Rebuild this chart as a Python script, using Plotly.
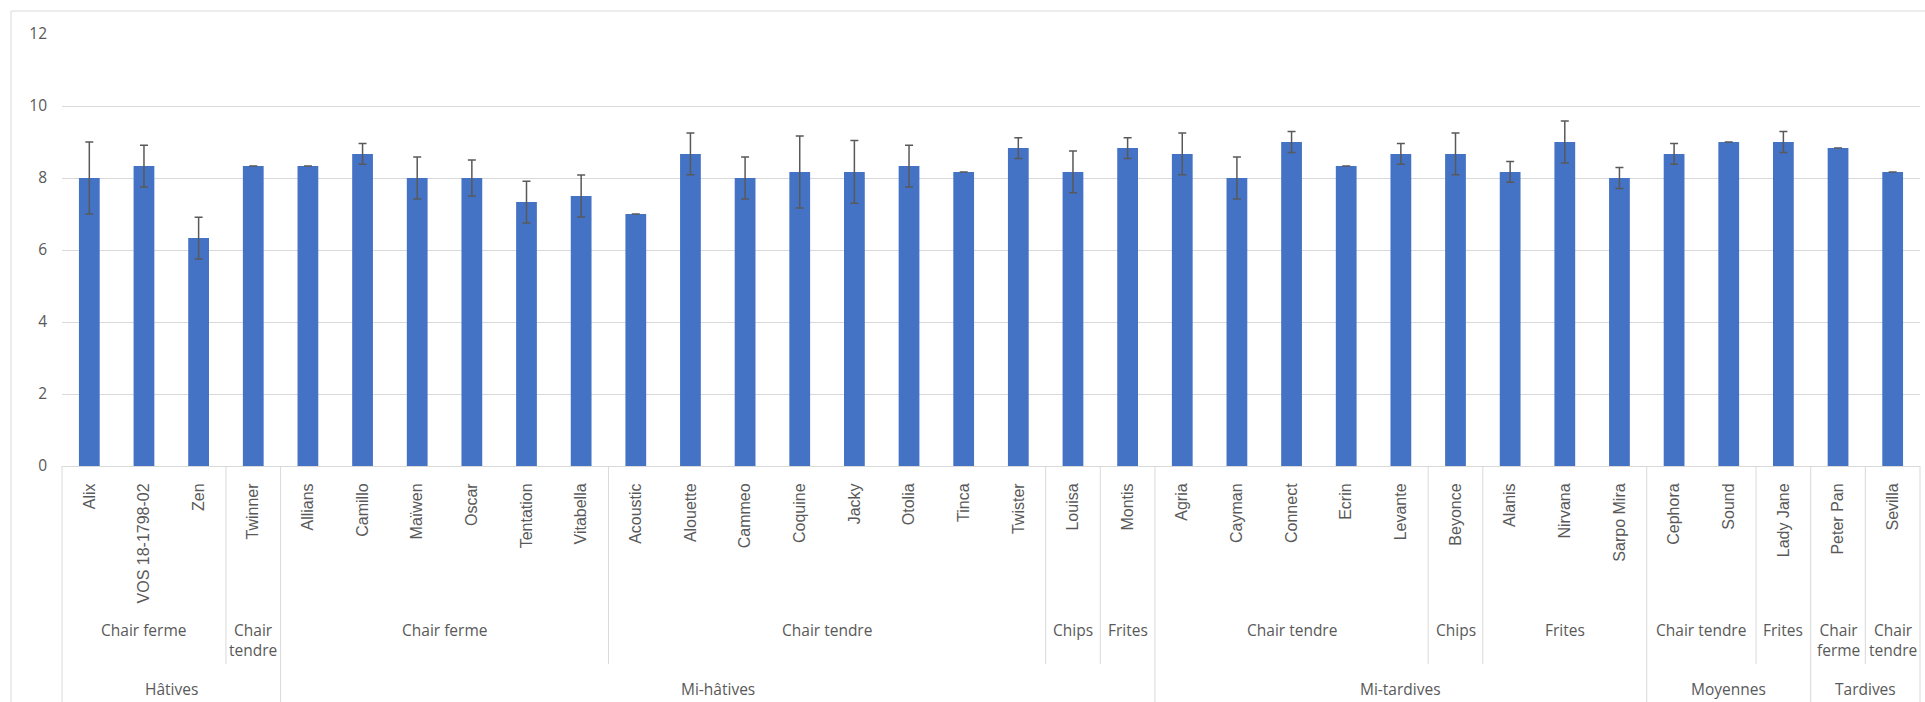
import plotly.graph_objects as go

# ---------------- data ----------------
varieties = ["Alix", "VOS 18-1798-02", "Zen", "Twinner", "Allians", "Camillo", "Maïwen",
             "Oscar", "Tentation", "Vitabella", "Acoustic", "Alouette", "Cammeo", "Coquine",
             "Jacky", "Otolia", "Tinca", "Twister", "Louisa", "Montis", "Agria", "Cayman",
             "Connect", "Ecrin", "Levante", "Beyonce", "Alanis", "Nirvana", "Sarpo Mira",
             "Cephora", "Sound", "Lady Jane", "Peter Pan", "Sevilla"]

maturity = (["Hâtives"] * 4 + ["Mi-hâtives"] * 16 + ["Mi-tardives"] * 9
            + ["Moyennes"] * 3 + ["Tardives"] * 2)

flesh = (["Chair ferme"] * 3 + ["Chair tendre"]
         + ["Chair ferme"] * 6 + ["Chair tendre"] * 8 + ["Chips", "Frites"]
         + ["Chair tendre"] * 5 + ["Chips"] + ["Frites"] * 3
         + ["Chair tendre"] * 2 + ["Frites"]
         + ["Chair ferme", "Chair tendre"])

means = [8.0, 8.33, 6.33, 8.33, 8.33, 8.67, 8.0, 8.0, 7.33, 7.5, 7.0, 8.67, 8.0, 8.17,
         8.17, 8.33, 8.17, 8.83, 8.17, 8.83, 8.67, 8.0, 9.0, 8.33, 8.67, 8.67, 8.17, 9.0,
         8.0, 8.67, 9.0, 9.0, 8.83, 8.17]

errors = [1.0, 0.58, 0.58, 0, 0, 0.29, 0.58, 0.5, 0.58, 0.58, 0, 0.58, 0.58, 1.0,
          0.87, 0.58, 0, 0.29, 0.58, 0.29, 0.58, 0.58, 0.29, 0, 0.29, 0.58, 0.29, 0.58,
          0.29, 0.29, 0, 0.29, 0, 0]

y_ticks = [0, 2, 4, 6, 8, 10, 12]

# ---------------- styling / layout constants ----------------
W, H = 1925, 702
ML, MR, MT, MB = 62, 5, 34, 236
PLOT_H = H - MT - MB
AXIS_Y = MT + PLOT_H          # pixel row of the category axis
GREY_TXT = "#595959"
GRID = "#d9d9d9"
BAR = "#4472C4"
GROUP_FONT = dict(family="Open Sans, Liberation Sans, sans-serif", size=15.5, color=GREY_TXT)


def py(pixel_y):
    """convert a pixel row (from page top) to paper y"""
    return (AXIS_Y - pixel_y) / PLOT_H


def runs(keys):
    out = []
    start = 0
    for i in range(1, len(keys) + 1):
        if i == len(keys) or keys[i] != keys[start]:
            out.append((start, i, keys[start]))
            start = i
    return out


n = len(varieties)

fig = go.Figure(go.Bar(
    x=varieties, y=means,
    marker=dict(color=BAR, line=dict(width=0)),
    width=0.38,
    error_y=dict(type="data", array=errors, visible=True,
                 color=GREY_TXT, thickness=1.5, width=4),
))

shapes = []
annotations = []

# chart border (Excel chart area outline)
shapes.append(dict(type="rect", xref="paper", yref="paper",
                   x0=(11 - ML) / (W - ML - MR), x1=(W + 2 - ML) / (W - ML - MR),
                   y0=py(H + 20), y1=py(11),
                   line=dict(color=GRID, width=1), fillcolor="rgba(0,0,0,0)",
                   layer="below"))

lvl1 = runs(maturity)
pairs = [m + "|" + f for m, f in zip(maturity, flesh)]
lvl2 = runs(pairs)

major_bounds = set()
for s, e, _ in lvl1:
    major_bounds.add(s)
    major_bounds.add(e)
minor_bounds = set()
for s, e, _ in lvl2:
    minor_bounds.add(s)
    minor_bounds.add(e)

for b in sorted(major_bounds | minor_bounds):
    bottom = H + 20 if b in major_bounds else 664
    shapes.append(dict(type="line", xref="paper", yref="paper",
                       x0=b / n, x1=b / n, y0=py(AXIS_Y), y1=py(bottom),
                       line=dict(color=GRID, width=1)))

for s, e, key in lvl2:
    label = key.split("|")[1]
    if e - s == 1 and " " in label:
        label = label.replace(" ", "<br>")
    annotations.append(dict(xref="paper", yref="paper", x=(s + e) / 2 / n, y=py(616.5),
                            xanchor="center", yanchor="top", text=label,
                            showarrow=False, font=GROUP_FONT))

for s, e, label in lvl1:
    annotations.append(dict(xref="paper", yref="paper", x=(s + e) / 2 / n, y=py(689),
                            xanchor="center", yanchor="middle", text=label,
                            showarrow=False, font=GROUP_FONT))

fig.update_layout(
    width=W, height=H,
    margin=dict(l=ML, r=MR, t=MT, b=MB, pad=0),
    paper_bgcolor="white", plot_bgcolor="white",
    showlegend=False,
    shapes=shapes, annotations=annotations,
    bargap=0.62,
)
fig.update_xaxes(type="category", showline=True, linecolor=GRID, linewidth=1,
                 showgrid=False, ticks="", tickangle=-90, ticklabelstandoff=10,
                 tickfont=dict(family="Liberation Sans, Arial, sans-serif", size=16,
                               color=GREY_TXT),
                 range=[-0.5, n - 0.5])
fig.update_yaxes(range=[0, 12], tickvals=y_ticks, showgrid=True, gridcolor=GRID,
                 gridwidth=1, zeroline=False, showline=False, ticks="",
                 ticklabelstandoff=14,
                 tickfont=dict(family="Open Sans, Liberation Sans, sans-serif", size=15.5,
                               color=GREY_TXT))

fig.write_html("out.html", config={"displayModeBar": False},
               post_script="document.body.style.margin='0';")
